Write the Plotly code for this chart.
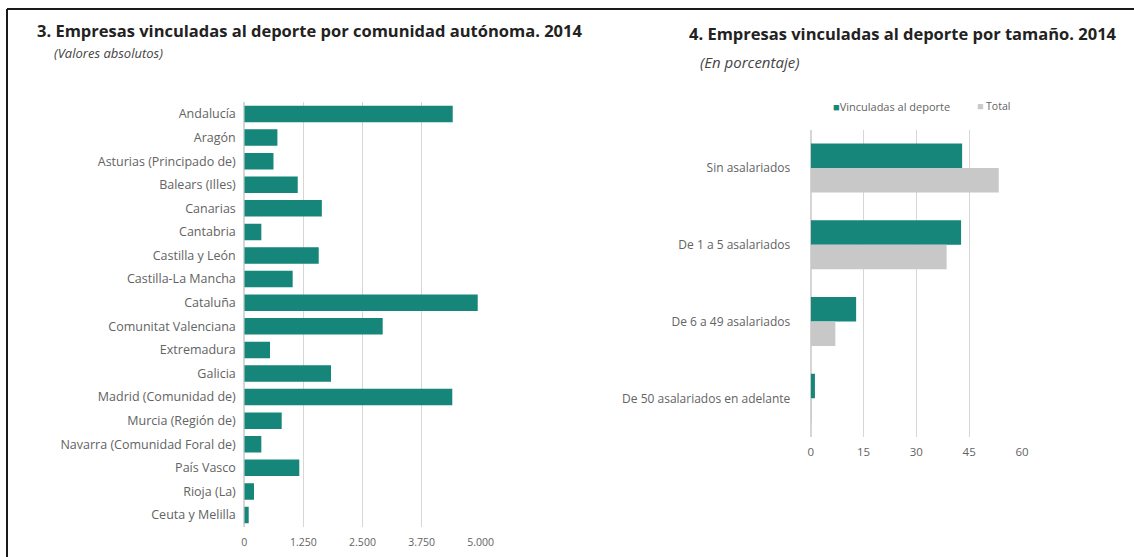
import plotly.graph_objects as go

# Empresas por comunidad autónoma (valores absolutos)
comunidades = [
    "Andalucía", "Aragón", "Asturias (Principado de)", "Balears (Illes)",
    "Canarias", "Cantabria", "Castilla y León", "Castilla-La Mancha",
    "Cataluña", "Comunitat Valenciana", "Extremadura", "Galicia",
    "Madrid (Comunidad de)", "Murcia (Región de)", "Navarra (Comunidad Foral de)",
    "País Vasco", "Rioja (La)", "Ceuta y Melilla",
]
empresas = [4408, 700, 617, 1130, 1640, 360, 1574, 1023,
            4937, 2927, 544, 1834, 4399, 791, 360, 1163, 205, 93]
ticks_izq = [0, 1250, 2500, 3750, 5000]
ticks_izq_txt = ["0", "1.250", "2.500", "3.750", "5.000"]

# Empresas por tamaño (en porcentaje)
tamanos = ["Sin asalariados", "De 1 a 5 asalariados", "De 6 a 49 asalariados",
           "De 50 asalariados en adelante"]
vinculadas = [43.0, 42.7, 12.9, 1.2]
total = [53.4, 38.6, 7.0, 0.2]
ticks_der = [0, 15, 30, 45, 60]

TEAL = "#16857a"
GRIS = "#c8c8c8"
TXT = "#636363"
GRID = "#d6d6d6"
W, H = 1134, 557

def px(x):
    return x / W

def py(y):
    return 1 - y / H

fig = go.Figure()

fig.add_trace(go.Bar(
    x=empresas, y=comunidades, orientation="h", width=0.7,
    marker=dict(color=TEAL, line=dict(width=0)),
    xaxis="x", yaxis="y", showlegend=False,
))

fig.add_trace(go.Bar(
    x=vinculadas, y=tamanos, orientation="h", width=0.32, offset=-0.32,
    marker=dict(color=TEAL, line=dict(width=0)), name="Vinculadas al deporte",
    xaxis="x2", yaxis="y2", showlegend=False,
))
fig.add_trace(go.Bar(
    x=total, y=tamanos, orientation="h", width=0.32, offset=0.0,
    marker=dict(color=GRIS, line=dict(width=0)), name="Total",
    xaxis="x2", yaxis="y2", showlegend=False,
))

fig.update_layout(
    width=W, height=H,
    margin=dict(l=0, r=0, t=0, b=0, autoexpand=False),
    paper_bgcolor="white", plot_bgcolor="white",
    barmode="overlay",
    font=dict(family="Open Sans", color=TXT),
    xaxis=dict(
        domain=[px(244.3), px(480.7)], range=[0, 5000],
        tickvals=ticks_izq, ticktext=ticks_izq_txt,
        showgrid=True, gridcolor=GRID, gridwidth=1,
        zeroline=True, zerolinecolor=GRID, showline=False,
        ticks="outside", ticklen=6, tickcolor="rgba(0,0,0,0)",
        tickfont=dict(family="Open Sans", size=10.5, color=TXT),
        anchor="y", automargin=False,
    ),
    yaxis=dict(
        domain=[py(526.8), py(102.2)],
        categoryorder="array", categoryarray=comunidades,
        range=[len(comunidades) - 0.5, -0.5],
        showgrid=False, zeroline=False, showline=False,
        ticks="outside", ticklen=5, tickcolor="rgba(0,0,0,0)",
        tickfont=dict(family="Open Sans", size=12.5, color=TXT),
        anchor="x", automargin=False,
    ),
    xaxis2=dict(
        domain=[px(810.7), px(1022)], range=[0, 60],
        tickvals=ticks_der,
        showgrid=True, gridcolor=GRID, gridwidth=1,
        zeroline=True, zerolinecolor=GRID, showline=False,
        ticks="outside", ticklen=4, tickcolor="rgba(0,0,0,0)",
        tickfont=dict(family="Open Sans", size=11.5, color=TXT),
        anchor="y2", automargin=False,
    ),
    yaxis2=dict(
        domain=[py(436.7), py(129.6)],
        categoryorder="array", categoryarray=tamanos,
        range=[len(tamanos) - 0.5, -0.5],
        showgrid=False, zeroline=False, showline=False,
        ticks="outside", ticklen=17, tickcolor="rgba(0,0,0,0)",
        tickfont=dict(family="Open Sans", size=12, color=TXT),
        anchor="x2", automargin=False,
    ),
    showlegend=False,
)

# Títulos y subtítulos
fig.add_annotation(
    text="<b>3. Empresas vinculadas al deporte por comunidad autónoma. 2014</b>",
    x=px(35), y=py(31), xref="paper", yref="paper", xanchor="left", yanchor="middle",
    showarrow=False, font=dict(family="Open Sans", size=16.5, color="#222222"),
)
fig.add_annotation(
    text="<i>(Valores absolutos)</i>",
    x=px(52), y=py(53), xref="paper", yref="paper", xanchor="left", yanchor="middle",
    showarrow=False, font=dict(family="Open Sans", size=13, color="#444444"),
)
fig.add_annotation(
    text="<b>4. Empresas vinculadas al deporte por tamaño. 2014</b>",
    x=px(687), y=py(33), xref="paper", yref="paper", xanchor="left", yanchor="middle",
    showarrow=False, font=dict(family="Open Sans", size=16.5, color="#222222"),
)
fig.add_annotation(
    text="<i>(En porcentaje)</i>",
    x=px(698), y=py(62), xref="paper", yref="paper", xanchor="left", yanchor="middle",
    showarrow=False, font=dict(family="Open Sans", size=15, color="#444444"),
)

# Leyenda del gráfico por tamaño
fig.add_annotation(
    text=f"<span style='color:{TEAL}'>■</span>Vinculadas al deporte",
    x=px(831), y=py(106), xref="paper", yref="paper", xanchor="left", yanchor="middle",
    showarrow=False, font=dict(family="Open Sans", size=11, color=TXT),
)
fig.add_annotation(
    text=f"<span style='color:{GRIS}'>■</span> Total",
    x=px(975), y=py(106), xref="paper", yref="paper", xanchor="left", yanchor="middle",
    showarrow=False, font=dict(family="Open Sans", size=10.5, color=TXT),
)

# Marco superior e izquierdo
fig.add_shape(type="line", xref="paper", yref="paper",
              x0=px(7), x1=1, y0=py(9), y1=py(9),
              line=dict(color="#1a1a1a", width=2))
fig.add_shape(type="line", xref="paper", yref="paper",
              x0=px(7), x1=px(7), y0=py(9), y1=0,
              line=dict(color="#1a1a1a", width=2))

fig.write_html("out.html")
